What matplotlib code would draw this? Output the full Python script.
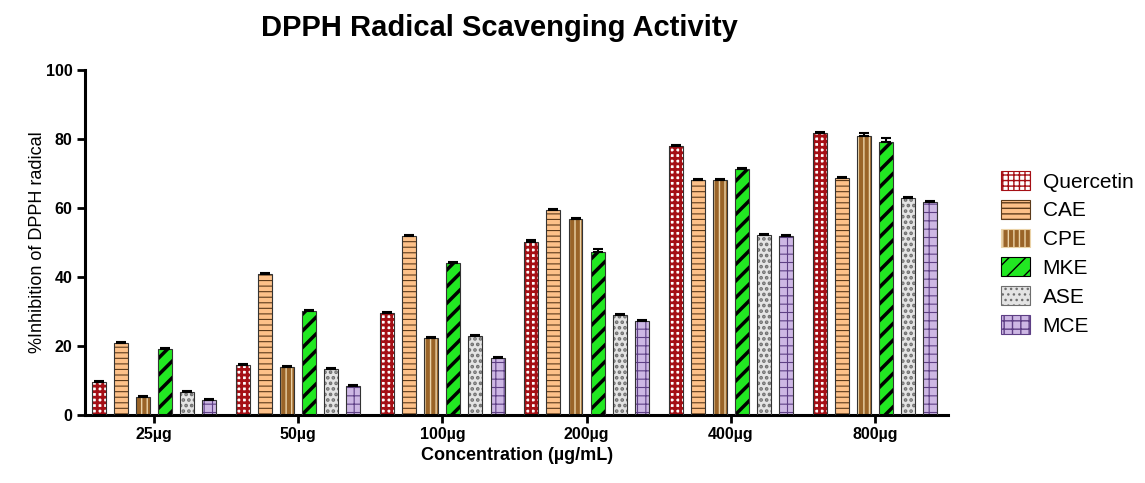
import matplotlib
matplotlib.use("Agg")
import matplotlib.pyplot as plt
import numpy as np
from matplotlib.patches import Patch

concentrations = ["25µg", "50µg", "100µg", "200µg", "400µg", "800µg"]
series_names = ["Quercetin", "CAE", "CPE", "MKE", "ASE", "MCE"]

quercetin = [9.7, 14.5, 29.5, 50.3, 78.0, 81.7]
cae = [21.0, 41.0, 51.8, 59.3, 68.0, 68.8]
cpe = [5.3, 14.0, 22.2, 56.7, 68.0, 80.8]
mke = [19.2, 30.2, 44.0, 47.2, 71.2, 79.1]
ase = [6.6, 13.2, 23.0, 28.9, 52.2, 63.0]
mce = [4.4, 8.5, 16.6, 27.3, 52.0, 61.8]

quercetin_err = [0.3, 0.3, 0.3, 0.3, 0.3, 0.3]
cae_err = [0.3, 0.3, 0.3, 0.3, 0.3, 0.3]
cpe_err = [0.3, 0.3, 0.3, 0.3, 0.3, 1.0]
mke_err = [0.3, 0.3, 0.3, 1.0, 0.5, 1.2]
ase_err = [0.3, 0.3, 0.3, 0.3, 0.3, 0.3]
mce_err = [0.3, 0.3, 0.3, 0.3, 0.3, 0.3]

values = [quercetin, cae, cpe, mke, ase, mce]
errors = [quercetin_err, cae_err, cpe_err, mke_err, ase_err, mce_err]

styles = [
    dict(face="white", hcol="#A50F15", hatch="+++", hlw=2.0),
    dict(face="#FDC189", hcol="#5C3A1A", hatch="---", hlw=0.8),
    dict(face="#9A6428", hcol="#EBD3A8", hatch="|||", hlw=1.0),
    dict(face="#22E822", hcol="black", hatch="//", hlw=2.5),
    dict(face="#E4E4E4", hcol="#6E6E6E", hatch="...", hlw=1.8),
    dict(face="#CDB7E4", hcol="#5E3F85", hatch="++", hlw=0.8),
]

fig = plt.figure(figsize=(11.45, 4.83), dpi=100)
ax = fig.add_axes([0.0742, 0.1408, 0.754, 0.714])

x = np.arange(len(concentrations))
step = 0.153
width = 0.097
for i, (vals, errs, st) in enumerate(zip(values, errors, styles)):
    pos = x + (i - 2.5) * step
    with plt.rc_context({"hatch.linewidth": st["hlw"]}):
        ax.bar(pos, vals, width=width, color=st["face"], edgecolor=st["hcol"],
               hatch=st["hatch"], linewidth=0, zorder=2)
    ax.bar(pos, vals, width=width, facecolor="none", edgecolor="#333333",
           linewidth=0.8, zorder=3)
    ax.errorbar(pos, vals, yerr=[np.zeros(len(errs)), errs], fmt="none",
                ecolor="black", elinewidth=1.5, capsize=3.5, capthick=1.5, zorder=4)

ax.set_xlim(-0.48, 5.51)
ax.set_ylim(0, 100)
ax.set_yticks([0, 20, 40, 60, 80, 100])
ax.set_xticks(x)
ax.set_xticklabels(concentrations)
for sp in ["top", "right"]:
    ax.spines[sp].set_visible(False)
for sp in ["left", "bottom"]:
    ax.spines[sp].set_linewidth(2.2)
ax.tick_params(axis="both", width=2, length=6, direction="out", labelsize=11.5, pad=3)
for lab in ax.get_xticklabels() + ax.get_yticklabels():
    lab.set_fontweight("bold")
    lab.set_family("Liberation Sans")

ax.set_ylabel("%Inhibition of DPPH radical", fontsize=13, family="Liberation Sans", labelpad=0)
ax.set_xlabel("Concentration (µg/mL)", fontsize=13, family="Liberation Sans",
              fontweight="bold", labelpad=3)
fig.text(0.436, 0.942, "DPPH Radical Scavenging Activity", ha="center", va="center",
         fontsize=21, fontweight="bold", family="Liberation Sans")

handles = []
for name, st in zip(series_names, styles):
    with plt.rc_context({"hatch.linewidth": st["hlw"]}):
        handles.append(Patch(facecolor=st["face"], edgecolor=st["hcol"],
                             hatch=st["hatch"], linewidth=0.8, label=name))
leg = fig.legend(handles=handles, loc="upper left", bbox_to_anchor=(0.867, 0.663),
                 frameon=False, prop={"family": "Liberation Sans", "size": 15},
                 handlelength=1.4, handleheight=1.0, labelspacing=0.4,
                 handletextpad=0.6, borderaxespad=0)

fig.savefig("out.png", dpi=100)
